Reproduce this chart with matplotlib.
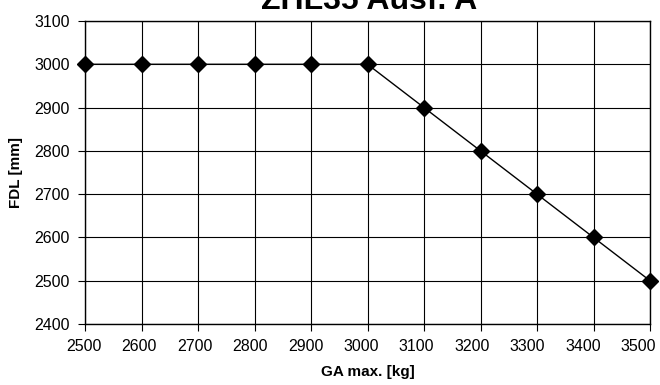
import matplotlib
matplotlib.use("Agg")
import matplotlib.pyplot as plt
from matplotlib.transforms import ScaledTranslation

plt.rcParams['font.family'] = ['Liberation Sans', 'DejaVu Sans']

ga = [2500, 2600, 2700, 2800, 2900, 3000, 3100, 3200, 3300, 3400, 3500]
fdl = [3000, 3000, 3000, 3000, 3000, 3000, 2900, 2800, 2700, 2600, 2500]
xticks = list(range(2500, 3501, 100))
yticks = list(range(2400, 3101, 100))

fig = plt.figure(figsize=(6.6, 3.85), dpi=100)
ax = fig.add_axes([85/660, 1 - 324/385, (650-85)/660, (324-21)/385])
ax.plot(ga, fdl, color='black', lw=1, marker='D', markersize=8,
        markerfacecolor='black', markeredgecolor='black', clip_on=False, zorder=3)
ax.set_xlim(2500, 3500)
ax.set_ylim(2400, 3100)
ax.set_xticks(xticks)
ax.set_yticks(yticks)
ax.grid(True, color='black', lw=0.8)
for s in ax.spines.values():
    s.set_color('black')
    s.set_linewidth(1)
ax.tick_params(axis='both', labelsize=11.5, length=5, width=0.8, color='black')
ax.tick_params(axis='x', pad=6)
ax.tick_params(axis='y', pad=6)
# Excel-style label drift: labels sit slightly left of their ticks, increasingly to the right
for i, lab in enumerate(ax.get_xticklabels()):
    shift = -(1.5 + i * 1.0) / 100.0
    lab.set_transform(lab.get_transform() + ScaledTranslation(shift, 0, fig.dpi_scale_trans))
ax.set_xlabel('GA max. [kg]', fontsize=11, fontweight='bold', labelpad=8)
ax.set_ylabel('FDL [mm]', fontsize=11, fontweight='bold', labelpad=8)
fig.text(369/660, 1 - 9/385, 'ZHL35 Ausf. A', ha='center', va='baseline',
         fontsize=23, fontweight='bold')
fig.savefig('out.png', dpi=100)
